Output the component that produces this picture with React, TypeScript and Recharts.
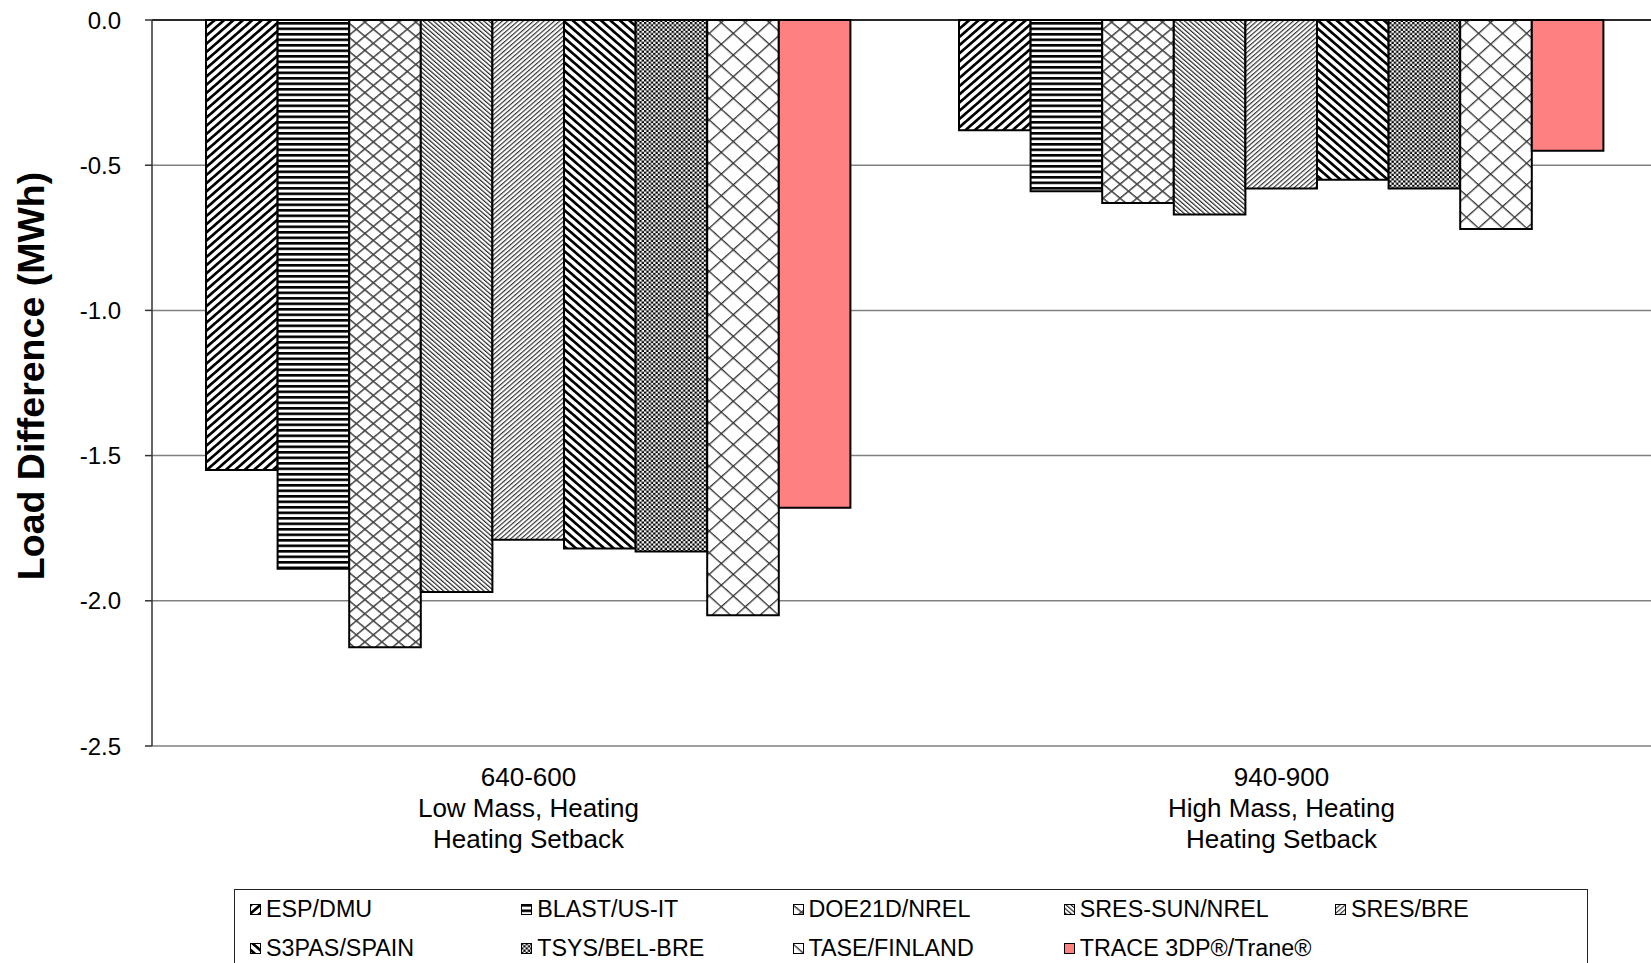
import React from 'react';
import { BarChart, Bar, XAxis, YAxis, CartesianGrid, Legend } from 'recharts';

const FONT = '"Liberation Sans", Arial, sans-serif';

const categories = ['640-600', '940-900'];
const categorySubLabels = [
  ['Low Mass, Heating', 'Heating Setback'],
  ['High Mass, Heating', 'Heating Setback'],
];

const seriesNames = [
  'ESP/DMU',
  'BLAST/US-IT',
  'DOE21D/NREL',
  'SRES-SUN/NREL',
  'SRES/BRE',
  'S3PAS/SPAIN',
  'TSYS/BEL-BRE',
  'TASE/FINLAND',
  'TRACE 3DP®/Trane®',
];

// MWh, one value per category
const espDmu = [-1.55, -0.38];
const blastUsIt = [-1.89, -0.59];
const doe21dNrel = [-2.16, -0.63];
const sresSunNrel = [-1.97, -0.67];
const sresBre = [-1.79, -0.58];
const s3pasSpain = [-1.82, -0.55];
const tsysBelBre = [-1.83, -0.58];
const taseFinland = [-2.05, -0.72];
const traceTrane = [-1.68, -0.45];

const yTicks = [0, -0.5, -1, -1.5, -2, -2.5];

const seriesValues = [espDmu, blastUsIt, doe21dNrel, sresSunNrel, sresBre, s3pasSpain, tsysBelBre, taseFinland, traceTrane];

const fills = [
  'url(#p-esp)',
  'url(#p-blast)',
  'url(#p-doe)',
  'url(#p-sun)',
  'url(#p-bre)',
  'url(#p-s3pas)',
  'url(#p-tsys)',
  'url(#p-tase)',
  '#ff8080',
];

const chartData = categories.map((name, i) => {
  const row: Record<string, string | number> = { name };
  seriesValues.forEach((vals, s) => {
    row[`s${s}`] = vals[i];
  });
  return row;
});

const YLabel = () => (
  <text transform="translate(44, 376) rotate(-90)" textAnchor="middle" fontSize={37.5} fontWeight="bold" fill="#000">
    Load Difference (MWh)
  </text>
);

const CategoryTick = ({ x, y, payload }: any) => {
  const idx = categories.indexOf(payload.value);
  const lines = [payload.value, ...(categorySubLabels[idx] || [])];
  return (
    <text textAnchor="middle" fontSize={26} fill="#000">
      {lines.map((line, i) => (
        <tspan key={i} x={x} y={y + 40 + i * 31}>
          {line}
        </tspan>
      ))}
    </text>
  );
};

const LegendBox = () => (
  <div
    style={{
      width: 1354,
      height: 80,
      border: '1px solid #222',
      boxSizing: 'border-box',
      position: 'relative',
      background: '#fff',
      fontFamily: FONT,
      color: '#000',
    }}
  >
    {seriesNames.map((name, i) => (
      <div
        key={name}
        style={{
          position: 'absolute',
          left: 15 + (i % 5) * 271.25,
          top: 5 + Math.floor(i / 5) * 39,
          height: 28,
          display: 'flex',
          alignItems: 'center',
          fontSize: 23.3,
          whiteSpace: 'nowrap',
        }}
      >
        <svg width={11} height={11} style={{ marginRight: 5 }}>
          <rect x={0.5} y={0.5} width={10} height={10} fill={fills[i]} stroke="#000" />
        </svg>
        {name}
      </div>
    ))}
  </div>
);

export default function App() {
  return (
    <div
      style={{
        position: 'absolute',
        left: 0,
        top: 0,
        width: 1651,
        height: 963,
        overflow: 'hidden',
        background: '#fff',
        fontFamily: FONT,
      }}
    >
      <BarChart
        width={1680}
        height={963}
        data={chartData}
        margin={{ top: 19, right: 22, bottom: 117, left: 0 }}
        barGap={0}
        barSize={71.6}
      >
        <defs>
          <pattern id="p-esp" patternUnits="userSpaceOnUse" width={5.8} height={5.8} patternTransform="scale(1.15,1) rotate(45)">
            <rect width={5.8} height={5.8} fill="#fff" />
            <rect width={2.5} height={5.8} fill="#000" />
          </pattern>
          <pattern id="p-blast" patternUnits="userSpaceOnUse" width={10} height={5.5}>
            <rect width={10} height={5.5} fill="#fff" />
            <rect width={10} height={2.6} fill="#000" />
          </pattern>
          <pattern id="p-doe" patternUnits="userSpaceOnUse" width={12} height={12} patternTransform="scale(1,0.83) rotate(45)">
            <rect width={12} height={12} fill="#fff" />
            <rect width={12} height={1.7} fill="#444" />
            <rect width={1.7} height={12} fill="#444" />
          </pattern>
          <pattern id="p-sun" patternUnits="userSpaceOnUse" width={3.1} height={3.1} patternTransform="scale(1.15,1) rotate(-45)">
            <rect width={3.1} height={3.1} fill="#fff" />
            <rect width={1.1} height={3.1} fill="#222" />
          </pattern>
          <pattern id="p-bre" patternUnits="userSpaceOnUse" width={3.2} height={3.2} patternTransform="scale(1.15,1) rotate(45)">
            <rect width={3.2} height={3.2} fill="#fff" />
            <rect width={1.1} height={3.2} fill="#333" />
          </pattern>
          <pattern id="p-s3pas" patternUnits="userSpaceOnUse" width={5.8} height={5.8} patternTransform="scale(1.15,1) rotate(-45)">
            <rect width={5.8} height={5.8} fill="#fff" />
            <rect width={2.5} height={5.8} fill="#000" />
          </pattern>
          <pattern id="p-tsys" patternUnits="userSpaceOnUse" width={4.6} height={4.4}>
            <rect width={4.6} height={4.4} fill="#fff" />
            <rect width={2.3} height={2.2} fill="#000" />
            <rect x={2.3} y={2.2} width={2.3} height={2.2} fill="#000" />
          </pattern>
          <pattern id="p-tase" patternUnits="userSpaceOnUse" width={17} height={17} patternTransform="scale(1,0.9) rotate(45)">
            <rect width={17} height={17} fill="#fff" />
            <rect width={17} height={1.4} fill="#333" />
            <rect width={1.4} height={17} fill="#333" />
          </pattern>
        </defs>
        <CartesianGrid vertical={false} stroke="#808080" strokeWidth={1.5} />
        <XAxis
          xAxisId="top"
          type="number"
          orientation="top"
          domain={[0, 2]}
          ticks={[0, 1, 2]}
          height={1}
          tick={false}
          tickSize={-6}
          axisLine={{ stroke: '#000', strokeWidth: 1.5 }}
          tickLine={{ stroke: '#000', strokeWidth: 1.2 }}
        />
        <XAxis
          dataKey="name"
          axisLine={false}
          tickLine={false}
          tickSize={0}
          tickMargin={0}
          height={100}
          interval={0}
          tick={<CategoryTick />}
        />
        <YAxis
          type="number"
          domain={[-2.5, 0]}
          ticks={yTicks}
          interval={0}
          width={152}
          tickSize={7}
          tickMargin={24}
          tick={{ fontSize: 24, fill: '#000' }}
          tickFormatter={(v: number) => v.toFixed(1)}
          axisLine={{ stroke: '#333', strokeWidth: 1.5 }}
          tickLine={{ stroke: '#333', strokeWidth: 1.5 }}
          label={<YLabel />}
        />
        <Legend
          layout="horizontal"
          verticalAlign="middle"
          align="center"
          wrapperStyle={{ left: 234, top: 889, width: 1354, height: 80 }}
          content={() => <LegendBox />}
        />
        {seriesNames.map((name, i) => (
          <Bar
            key={name}
            dataKey={`s${i}`}
            name={name}
            fill={fills[i]}
            stroke="#000"
            strokeWidth={2}
            isAnimationActive={false}
          />
        ))}
      </BarChart>
    </div>
  );
}
